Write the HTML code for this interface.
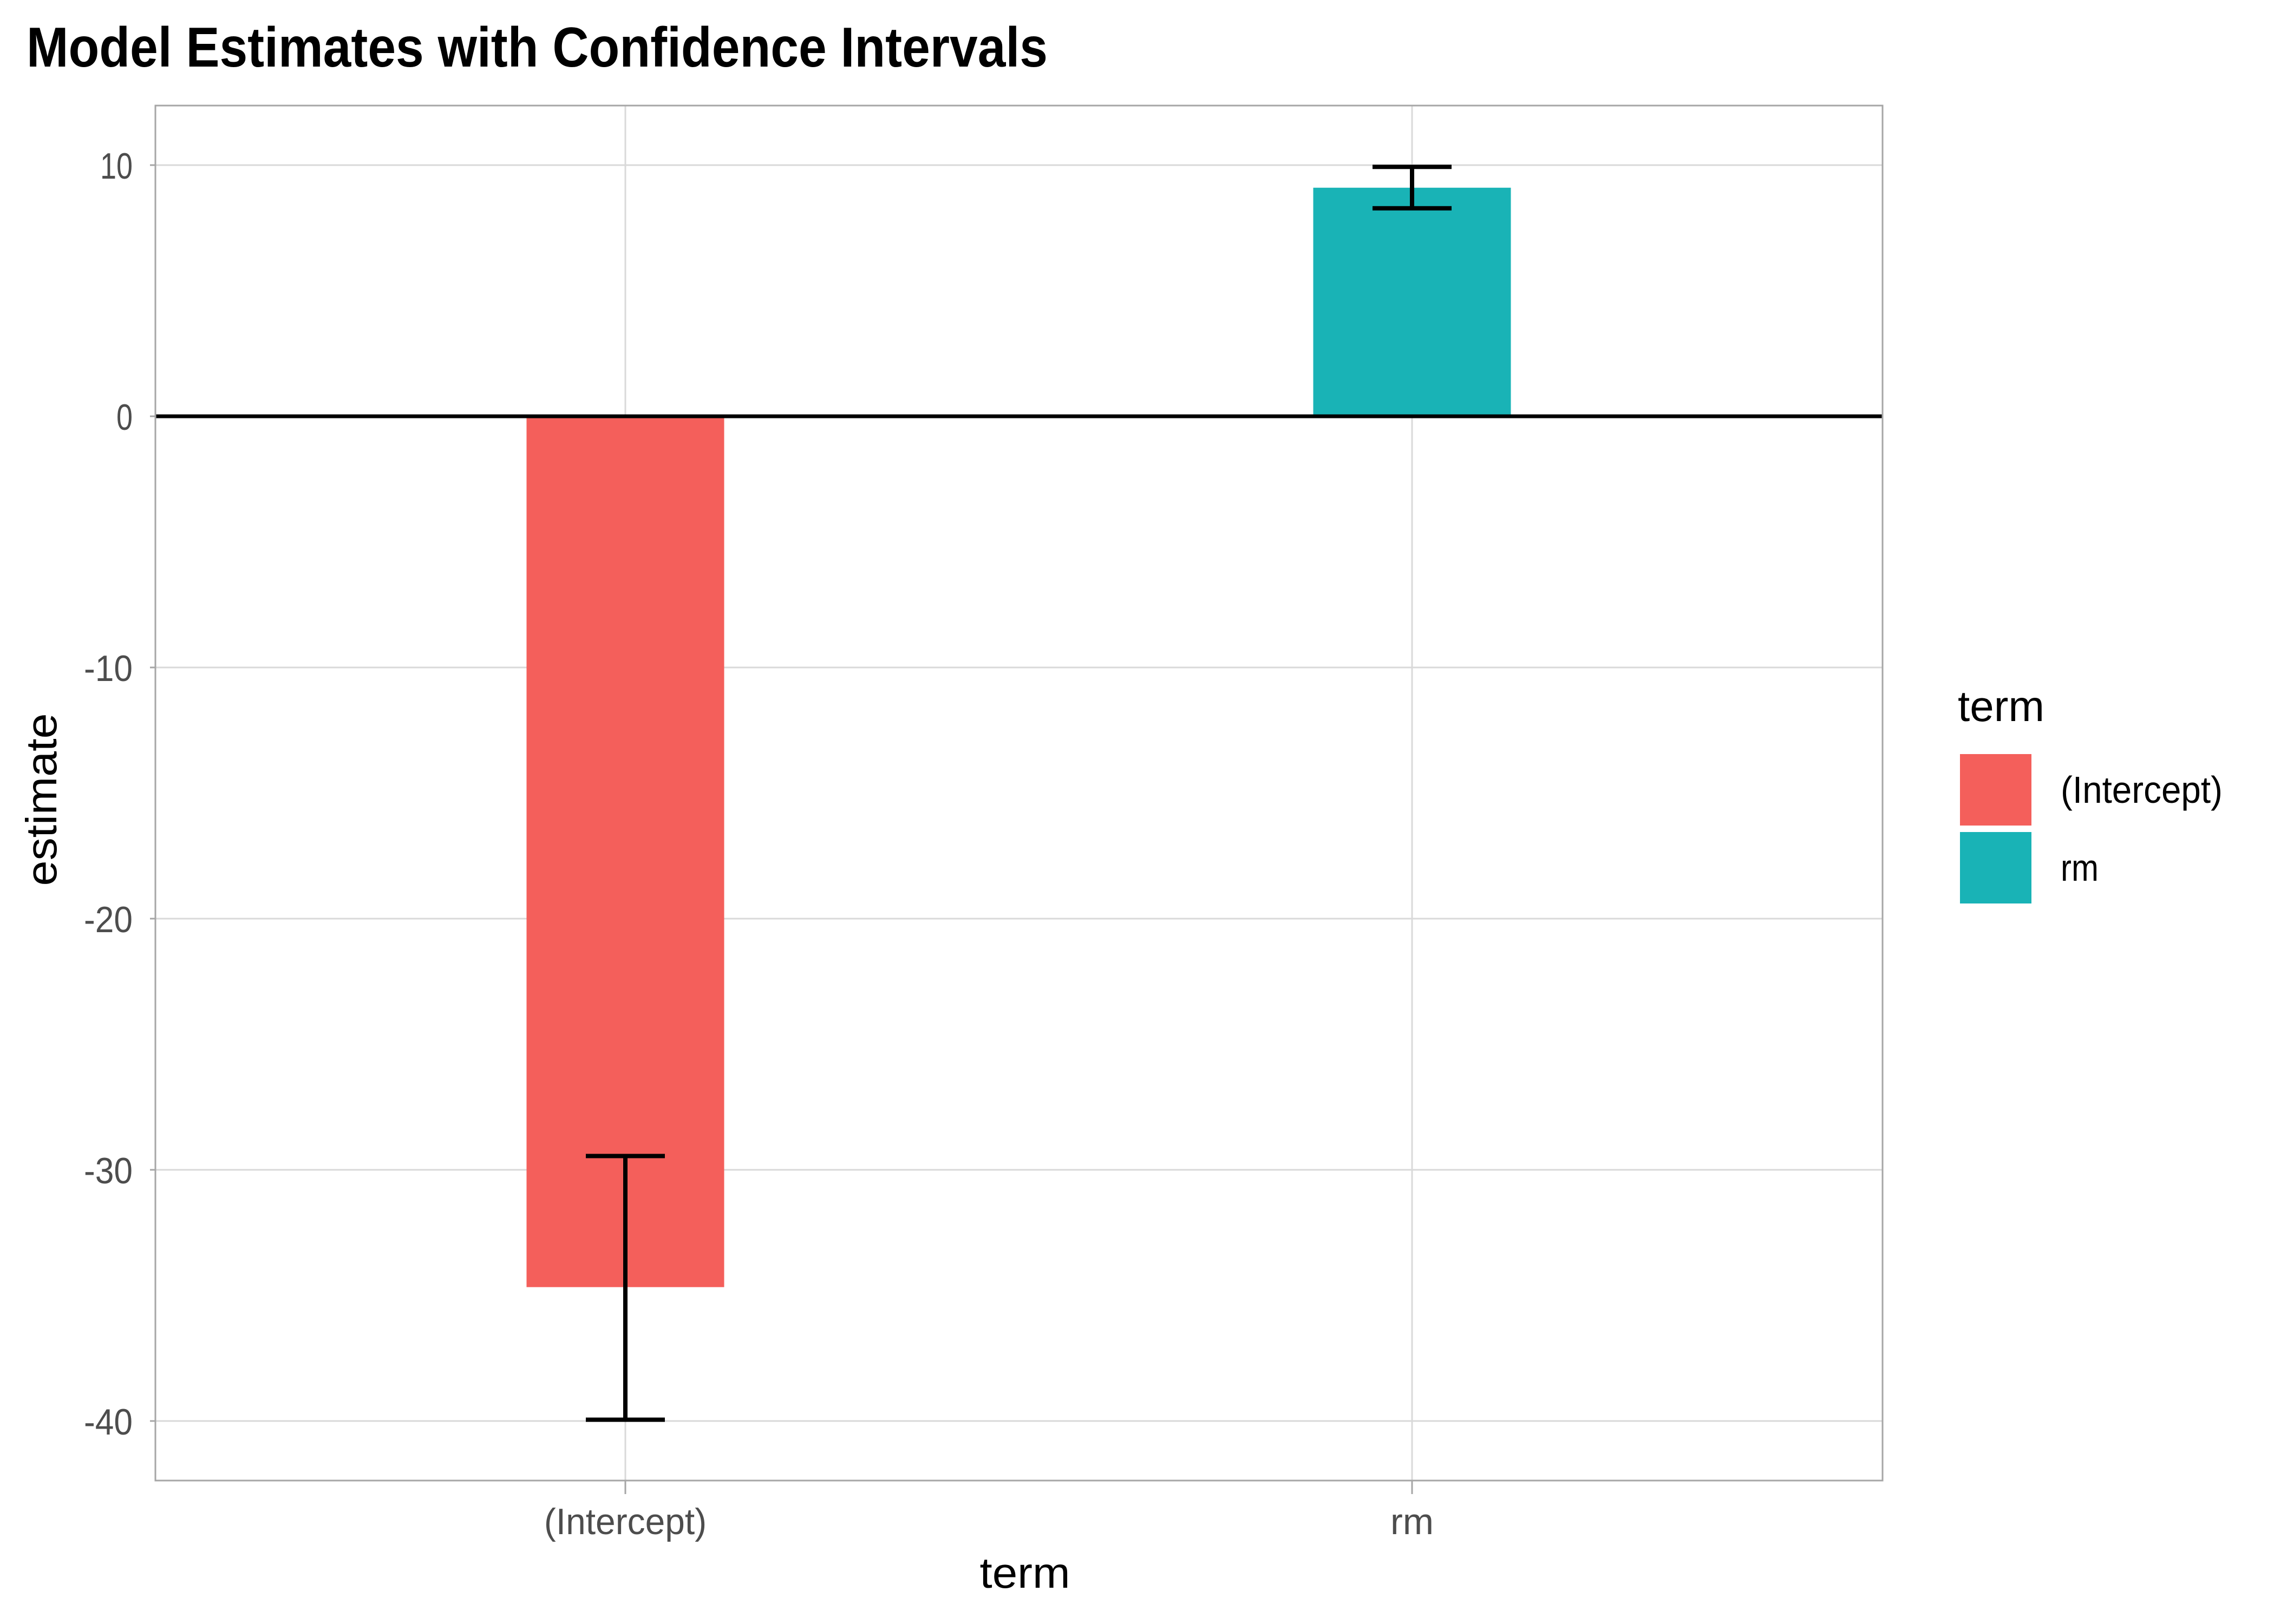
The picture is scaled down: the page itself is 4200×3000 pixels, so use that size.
<!DOCTYPE html>
<html><head><meta charset="utf-8"><style>
html,body{margin:0;padding:0;background:#fff;}
svg{display:block;}
text{font-family:"Liberation Sans Narrow","Liberation Sans",sans-serif;}
</style></head><body>
<svg id="chart" width="4200" height="3000" viewBox="0 0 4200 3000" xmlns="http://www.w3.org/2000/svg">
<rect width="4200" height="3000" fill="#fff"/>
<text x="49" y="123" font-size="104" font-weight="bold" fill="#000" textLength="1886" lengthAdjust="spacingAndGlyphs">Model Estimates with Confidence Intervals</text>
<g id="grid"></g>
<g id="bars"></g>
<g id="errs"></g>
<rect x="287" y="195" width="3190" height="2540" fill="none" stroke="#a6a6a6" stroke-width="3"/>
<g id="axes"></g>
<text transform="translate(104,1477) rotate(-90)" text-anchor="middle" font-size="80" fill="#000" textLength="319" lengthAdjust="spacingAndGlyphs">estimate</text>
<text x="1893" y="2933" text-anchor="middle" font-size="80" fill="#000" textLength="167" lengthAdjust="spacingAndGlyphs">term</text>
<g>
<text x="3616" y="1332" font-size="80" fill="#000" textLength="160" lengthAdjust="spacingAndGlyphs">term</text>
<rect x="3620" y="1393" width="132" height="132" fill="#F45F5B"/>
<text x="3806" y="1483" font-size="70" fill="#000" textLength="299" lengthAdjust="spacingAndGlyphs">(Intercept)</text>
<rect x="3620" y="1537" width="132" height="132" fill="#19B3B6"/>
<text x="3806" y="1627" font-size="70" fill="#000" textLength="70" lengthAdjust="spacingAndGlyphs">rm</text>
</g>
</svg>
<script>
const categories = ["(Intercept)", "rm"];
const estimates = [-34.67, 9.10];
const confLow = [-39.95, 8.28];
const confHigh = [-29.45, 9.93];
const colors = ["#F45F5B", "#19B3B6"];
const yTicks = [10, 0, -10, -20, -30, -40];
const yTickLabels = ["10", "0", "-10", "-20", "-30", "-40"];

const NS = "http://www.w3.org/2000/svg";
const panel = {left: 287, right: 3477, top: 195, bottom: 2735};
const y0px = 769, pxPerUnit = 46.4;
function yScale(v){ return y0px - v * pxPerUnit; }
const xCenters0 = 1155, xStep = 1453;
function xScale(i){ return xCenters0 + i * xStep; }
const barW = 365, capW = 146;

function mk(tag, attrs, parent){
  const e = document.createElementNS(NS, tag);
  for (const k in attrs) e.setAttribute(k, attrs[k]);
  parent.appendChild(e); return e;
}
const grid = document.getElementById('grid');
const axes = document.getElementById('axes');
const bars = document.getElementById('bars');
const errs = document.getElementById('errs');

yTicks.forEach((t, i) => {
  const y = yScale(t);
  const g = mk('line', {x1: panel.left, x2: panel.right, y1: y, y2: y, stroke: '#d9d9d9', 'stroke-width': 3}, grid);
  
  
  const tk = mk('line', {x1: panel.left - 10, x2: panel.left, y1: y, y2: y, stroke: '#a6a6a6', 'stroke-width': 3}, axes);
  
  
  const lb = mk('text', {x: 245, y: y + 25, 'text-anchor': 'end', 'font-size': 68, fill: '#4d4d4d', textLength: yTickLabels[i].length * 30, lengthAdjust: 'spacingAndGlyphs'}, axes);
  lb.textContent = yTickLabels[i];
  
  
});
categories.forEach((c, i) => {
  const x = xScale(i);
  const g = mk('line', {x1: x, x2: x, y1: panel.top, y2: panel.bottom, stroke: '#d9d9d9', 'stroke-width': 3}, grid);
  
  
  const tk = mk('line', {x1: x, x2: x, y1: panel.bottom, y2: panel.bottom + 25, stroke: '#a6a6a6', 'stroke-width': 3}, axes);
  
  
  const tl = c.length > 3 ? c.length * 27.3 : c.length * 40;
  const lb = mk('text', {x: x, y: 2834, 'text-anchor': 'middle', 'font-size': 68, fill: '#4d4d4d', textLength: tl, lengthAdjust: 'spacingAndGlyphs'}, axes);
  lb.textContent = c;
  
  

  const v = estimates[i];
  const top = Math.min(yScale(v), yScale(0));
  const h = Math.abs(yScale(v) - yScale(0));
  const b = mk('rect', {x: x - barW/2, y: top, width: barW, height: h, fill: colors[i]}, bars);
  
  

  const eg = mk('g', {stroke: '#000', 'stroke-width': 8, fill: 'none'}, errs);
  
  
  mk('line', {x1: x, x2: x, y1: yScale(confLow[i]), y2: yScale(confHigh[i])}, eg);
  mk('line', {x1: x - capW/2, x2: x + capW/2, y1: yScale(confLow[i]), y2: yScale(confLow[i])}, eg);
  mk('line', {x1: x - capW/2, x2: x + capW/2, y1: yScale(confHigh[i]), y2: yScale(confHigh[i])}, eg);
});
const zl = mk('line', {x1: panel.left, x2: panel.right, y1: yScale(0), y2: yScale(0), stroke: '#000', 'stroke-width': 7}, errs);


</script>
</body></html>
